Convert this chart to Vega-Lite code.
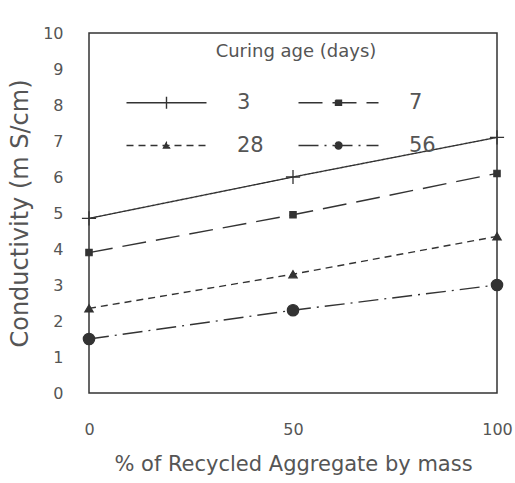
{
  "$schema": "https://vega.github.io/schema/vega-lite/v6.json",
  "width": 408,
  "height": 360,
  "autosize": "none",
  "padding": {"left": 89, "top": 33, "right": 18, "bottom": 90},
  "background": "white",
  "config": {
    "font": "DejaVu Sans",
    "view": {"stroke": "#333", "strokeWidth": 1.5},
    "axis": {
      "grid": false,
      "domain": false,
      "ticks": false,
      "labelColor": "#555",
      "titleColor": "#555",
      "labelFontSize": 16,
      "titleFontWeight": "normal"
    }
  },
  "data": {
    "values": [
      {"ra": 0, "cond": 4.85, "age": "3"},
      {"ra": 50, "cond": 6.0, "age": "3"},
      {"ra": 100, "cond": 7.1, "age": "3"},
      {"ra": 0, "cond": 3.9, "age": "7"},
      {"ra": 50, "cond": 4.95, "age": "7"},
      {"ra": 100, "cond": 6.1, "age": "7"},
      {"ra": 0, "cond": 2.35, "age": "28"},
      {"ra": 50, "cond": 3.3, "age": "28"},
      {"ra": 100, "cond": 4.35, "age": "28"},
      {"ra": 0, "cond": 1.5, "age": "56"},
      {"ra": 50, "cond": 2.3, "age": "56"},
      {"ra": 100, "cond": 3.0, "age": "56"}
    ]
  },
  "encoding": {
    "x": {
      "field": "ra",
      "type": "quantitative",
      "scale": {"domain": [0, 100], "nice": false},
      "axis": {
        "values": [0, 50, 100],
        "title": "% of Recycled Aggregate by mass",
        "titleFontSize": 21,
        "labelPadding": 28,
        "titlePadding": 16,
        "labelFlush": false
      }
    },
    "y": {
      "field": "cond",
      "type": "quantitative",
      "scale": {"domain": [0, 10], "nice": false},
      "axis": {
        "values": [0, 1, 2, 3, 4, 5, 6, 7, 8, 9, 10],
        "title": "Conductivity (m S/cm)",
        "titleFontSize": 24,
        "labelPadding": 26,
        "titlePadding": 10
      }
    }
  },
  "layer": [
    {
      "mark": {"type": "line", "color": "#333", "strokeWidth": 1.4},
      "encoding": {
        "strokeDash": {
          "field": "age",
          "type": "nominal",
          "scale": {
            "domain": ["3", "7", "28", "56"],
            "range": [[1, 0], [24, 10], [7, 5], [20, 6, 2, 6]]
          },
          "legend": {
            "orient": "none",
            "direction": "horizontal",
            "legendX": 67,
            "legendY": 10,
            "columns": 2,
            "title": "Curing age (days)",
            "titleAnchor": "middle",
            "titleFontSize": 18,
            "titleFontWeight": "normal",
            "titleColor": "#555",
            "titlePadding": 31,
            "labelFontSize": 21,
            "labelColor": "#555",
            "labelOffset": 60,
            "symbolSize": 100,
            "symbolStrokeWidth": 1.4,
            "symbolStrokeColor": "#333",
            "symbolFillColor": "#333",
            "rowPadding": 21,
            "columnPadding": 31,
            "padding": 0,
            "encoding": {
              "symbols": {
                "shape": {"value": {"expr": "datum.value === '3' ? 'M-8,0L8,0M0,-1.2L0,1.2' : datum.value === '7' ? 'M-8,0L8,0M-0.6,-0.5L0.6,-0.5L0.6,0.5L-0.6,0.5Z' : datum.value === '28' ? 'M-8,0L8,0M-0.6,0.5L0.6,0.5L0,-0.6Z' : 'M-8,0L8,0M-0.7,0A0.7,0.7 0 1,0 0.7,0A0.7,0.7 0 1,0 -0.7,0'"}},
                "fill": {"value": "#333"},
                "stroke": {"value": "#333"},
                "strokeWidth": {"value": 1.4},
                "opacity": {"value": 1}
              }
            }
          }
        }
      }
    },
    {
      "transform": [{"filter": "datum.age === '3'"}],
      "mark": {"type": "point", "shape": "M-1,0L1,0M0,-1L0,1", "size": 200, "filled": false, "color": "#333", "strokeWidth": 1.3, "opacity": 1}
    },
    {
      "transform": [{"filter": "datum.age === '7'"}],
      "mark": {"type": "point", "shape": "square", "size": 40, "filled": true, "color": "#333", "stroke": "#333", "strokeWidth": 1.2, "opacity": 1}
    },
    {
      "transform": [{"filter": "datum.age === '28'"}],
      "mark": {"type": "point", "shape": "triangle-up", "size": 70, "filled": true, "color": "#333", "stroke": "#333", "strokeWidth": 1.2, "opacity": 1}
    },
    {
      "transform": [{"filter": "datum.age === '56'"}],
      "mark": {"type": "point", "shape": "circle", "size": 130, "filled": true, "color": "#333", "stroke": "#333", "strokeWidth": 1.2, "opacity": 1}
    }
  ]
}
